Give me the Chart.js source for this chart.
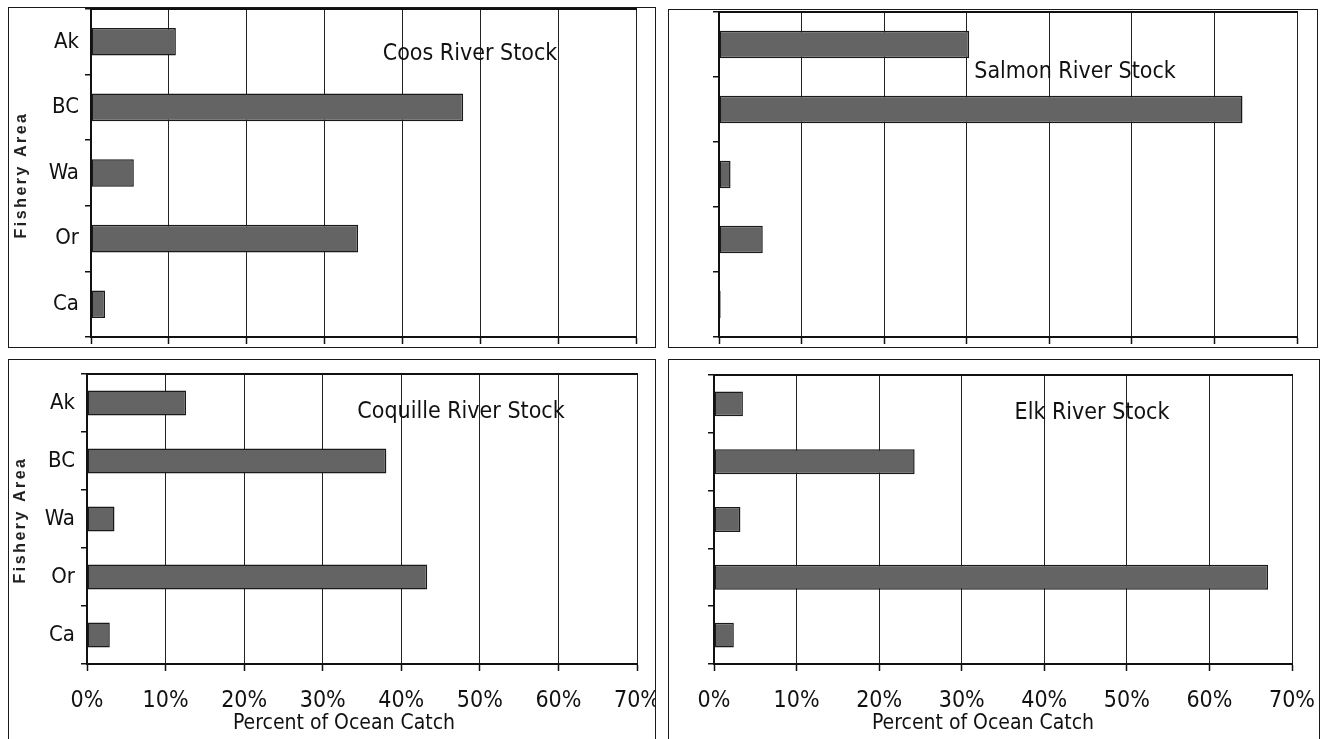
<!DOCTYPE html>
<html><head><meta charset="utf-8">
<script src="https://cdn.jsdelivr.net/npm/chart.js@4.4.0/dist/chart.umd.min.js"></script>
<style>
html,body{margin:0;padding:0;background:#fff;width:1324px;height:739px;overflow:hidden;}
canvas{position:absolute;}
.frame{position:absolute;border:1.5px solid #1a1a1a;box-sizing:border-box;pointer-events:none;}
</style></head><body>
<div id="root"></div>
<script>
// ---- data ----
const categories = ['Ak', 'BC', 'Wa', 'Or', 'Ca'];
const coosValues = [10.9, 47.8, 5.5, 34.3, 1.8];
const salmonValues = [30.3, 63.4, 1.4, 5.3, 0.2];
const coquilleValues = [12.6, 38.1, 3.5, 43.3, 2.9];
const elkValues = [3.5, 24.3, 3.2, 67.1, 2.4];
const xTickLabels = ['0%', '10%', '20%', '30%', '40%', '50%', '60%', '70%'];
const panelTitles = ['Coos River Stock', 'Salmon River Stock', 'Coquille River Stock', 'Elk River Stock'];
const yAxisTitle = 'Fishery Area';
const xAxisTitle = 'Percent of Ocean Catch';

// ---- layout / style ----
const NARROW = "'Liberation Sans Narrow', 'DejaVu Sans Condensed', 'Liberation Sans', sans-serif";
const panels = [
  {values: coosValues, title: panelTitles[0], box: {l: 8, t: 7, w: 648, h: 341, fh: 341}, plot: {l: 91, r: 636, t: 9, b: 337},
   showCats: true, showX: false, titlePos: [470, 54], yTitlePos: [22, 175], barPct: 0.42},
  {values: salmonValues, title: panelTitles[1], box: {l: 668, t: 9, w: 650, h: 339, fh: 339}, plot: {l: 719, r: 1297, t: 12, b: 337},
   showCats: false, showX: false, titlePos: [1075, 72], barPct: 0.42},
  {values: coquilleValues, title: panelTitles[2], box: {l: 8, t: 359, w: 648, h: 380, fh: 400}, plot: {l: 87, r: 637, t: 374, b: 664},
   showCats: true, showX: true, titlePos: [461, 412], axisTitlePos: [344, 724], yTitlePos: [21, 520], barPct: 0.43},
  {values: elkValues, title: panelTitles[3], box: {l: 668, t: 359, w: 652, h: 380, fh: 400}, plot: {l: 714, r: 1292, t: 375, b: 664},
   showCats: false, showX: true, titlePos: [1092, 413], axisTitlePos: [983, 724], barPct: 0.43}
];

const textPlugin = {
  id: 'panelText',
  afterDraw(chart, args, opts) {
    const ctx = chart.ctx;
    (opts.items || []).forEach(it => {
      ctx.save();
      ctx.font = it.font;
      ctx.fillStyle = it.color || '#111';
      if (it.spacing) ctx.letterSpacing = it.spacing;
      ctx.textAlign = 'center';
      ctx.textBaseline = 'middle';
      ctx.translate(it.x, it.y);
      if (it.rotate) ctx.rotate(it.rotate);
      ctx.fillText(it.text, 0, 0);
      ctx.restore();
    });
  }
};
const topBorderPlugin = {
  id: 'topBorder',
  beforeDatasetsDraw(chart) {
    const {ctx, chartArea: a} = chart;
    ctx.save();
    ctx.strokeStyle = '#111';
    ctx.lineWidth = 2;
    ctx.beginPath();
    ctx.moveTo(a.left - 1, a.top);
    ctx.lineTo(a.right + 1, a.top);
    ctx.stroke();
    ctx.restore();
  }
};

const root = document.getElementById('root');
panels.forEach((p) => {
  const b = p.box;
  const cv = document.createElement('canvas');
  cv.width = b.w; cv.height = b.h;
  cv.style.left = b.l + 'px'; cv.style.top = b.t + 'px';
  cv.style.width = b.w + 'px'; cv.style.height = b.h + 'px';
  root.appendChild(cv);
  const fr = document.createElement('div');
  fr.className = 'frame';
  fr.style.left = b.l + 'px'; fr.style.top = b.t + 'px';
  fr.style.width = b.w + 'px'; fr.style.height = b.fh + 'px';
  root.appendChild(fr);

  const yWidth = p.plot.l - b.l;
  const xHeight = b.t + b.h - p.plot.b;
  const items = [{text: p.title, font: '23px ' + NARROW, x: p.titlePos[0] - b.l, y: p.titlePos[1] - b.t}];
  if (p.showX) items.push({text: xAxisTitle, font: '21px ' + NARROW, x: p.axisTitlePos[0] - b.l, y: p.axisTitlePos[1] - b.t});
  if (p.showCats) items.push({text: yAxisTitle, font: "bold 16px 'Liberation Sans', Arial, sans-serif", color: '#222',
    spacing: '2.5px', rotate: -Math.PI / 2, x: p.yTitlePos[0] - b.l, y: p.yTitlePos[1] - b.t});

  new Chart(cv, {
    type: 'bar',
    data: {
      labels: categories,
      datasets: [{
        data: p.values,
        backgroundColor: '#646464',
        borderColor: '#1a1a1a',
        borderWidth: 1.5,
        borderSkipped: false,
        barPercentage: p.barPct,
        categoryPercentage: 1.0
      }]
    },
    options: {
      indexAxis: 'y',
      responsive: false,
      animation: false,
      events: [],
      layout: {padding: {left: 0, top: p.plot.t - b.t, right: b.l + b.w - p.plot.r, bottom: 0}},
      plugins: {
        legend: {display: false},
        tooltip: {enabled: false},
        title: {display: false},
        panelText: {items}
      },
      scales: {
        x: {
          type: 'linear',
          min: 0, max: 70,
          afterFit: s => { s.height = xHeight; s.paddingLeft = 0; s.paddingRight = 0; },
          ticks: {
            stepSize: 10,
            display: p.showX,
            padding: 16,
            color: '#111',
            font: {family: NARROW, size: 23},
            callback: (v, i) => xTickLabels[i]
          },
          grid: {color: '#222', lineWidth: 1, tickLength: 7, tickColor: '#111', tickWidth: 1.5},
          border: {display: true, color: '#111', width: 2}
        },
        y: {
          type: 'category',
          offset: true,
          afterFit: s => { s.width = yWidth; s.paddingTop = 0; s.paddingBottom = 0; },
          ticks: {
            display: p.showCats,
            padding: 6,
            color: '#111',
            font: {family: NARROW, size: 22}
          },
          grid: {offset: true, drawOnChartArea: false, tickLength: 6, color: '#111', lineWidth: 1.5},
          border: {display: true, color: '#111', width: 2}
        }
      }
    },
    plugins: [textPlugin, topBorderPlugin]
  });
});
</script>
</body></html>
